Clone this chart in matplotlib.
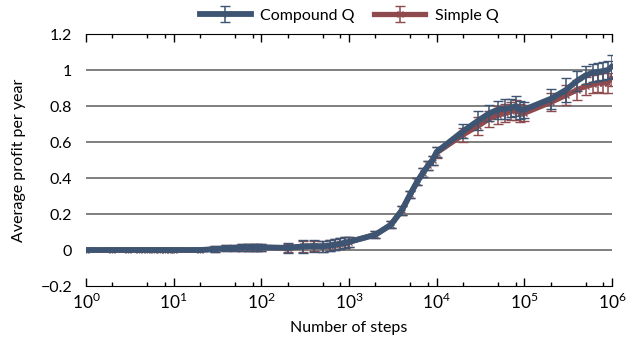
import numpy as np
import matplotlib.pyplot as plt
from matplotlib.ticker import FixedLocator, FuncFormatter, NullFormatter

plt.rcParams['font.family'] = ['Lato', 'DejaVu Sans']
plt.rcParams['mathtext.fontset'] = 'custom'
plt.rcParams['mathtext.rm'] = 'Lato'

steps = [1, 2, 3, 4, 5, 6, 7, 8, 9,
         10, 20, 30, 40, 50, 60, 70, 80, 90,
         100, 200, 300, 400, 500, 600, 700, 800, 900,
         1e3, 2e3, 3e3, 4e3, 5e3, 6e3, 7e3, 8e3, 9e3,
         1e4, 2e4, 3e4, 4e4, 5e4, 6e4, 7e4, 8e4, 9e4,
         1e5, 2e5, 3e5, 4e5, 5e5, 6e5, 7e5, 8e5, 9e5,
         1e6]

compound_q = [0, 0, 0, 0, 0, 0, 0, 0, 0,
              0, 0, 0.005, 0.01, 0.012, 0.015, 0.015, 0.015, 0.015,
              0.015, 0.012, 0.02, 0.022, 0.02, 0.025, 0.03, 0.035, 0.04,
              0.045, 0.085, 0.14, 0.22, 0.31, 0.38, 0.43, 0.47, 0.50,
              0.545, 0.66, 0.72, 0.76, 0.78, 0.785, 0.79, 0.80, 0.78,
              0.78, 0.84, 0.89, 0.94, 0.97, 0.985, 0.99, 0.995, 1.0,
              1.02]
compound_err = [0, 0, 0, 0, 0, 0, 0, 0, 0,
                0, 0, 0.015, 0.018, 0.018, 0.018, 0.018, 0.018, 0.018,
                0.018, 0.028, 0.035, 0.035, 0.03, 0.03, 0.03, 0.03, 0.03,
                0.028, 0.02, 0.02, 0.025, 0.02, 0.02, 0.025, 0.025, 0.025,
                0.03, 0.04, 0.055, 0.045, 0.05, 0.055, 0.05, 0.055, 0.05,
                0.045, 0.055, 0.065, 0.055, 0.05, 0.05, 0.05, 0.05, 0.05,
                0.065]

simple_q = [0, 0, 0, 0, 0, 0, 0, 0, 0,
            0, 0, 0.005, 0.01, 0.012, 0.015, 0.015, 0.015, 0.015,
            0.015, 0.012, 0.02, 0.022, 0.02, 0.025, 0.03, 0.035, 0.04,
            0.045, 0.085, 0.14, 0.22, 0.31, 0.38, 0.43, 0.47, 0.50,
            0.54, 0.64, 0.69, 0.73, 0.75, 0.76, 0.77, 0.78, 0.76,
            0.76, 0.82, 0.86, 0.89, 0.91, 0.92, 0.93, 0.93, 0.93,
            0.96]
simple_err = [0.006, 0.006, 0.006, 0.006, 0.006, 0.006, 0.006, 0.006, 0.006,
              0.006, 0.006, 0.015, 0.018, 0.018, 0.018, 0.018, 0.018, 0.018,
              0.018, 0.022, 0.03, 0.03, 0.03, 0.03, 0.03, 0.03, 0.03,
              0.028, 0.02, 0.02, 0.025, 0.02, 0.02, 0.025, 0.025, 0.025,
              0.03, 0.04, 0.05, 0.045, 0.05, 0.05, 0.05, 0.055, 0.05,
              0.045, 0.05, 0.055, 0.055, 0.05, 0.05, 0.05, 0.055, 0.055,
              0.05]

blue = '#3d5573'
red = '#8e4a4c'

fig = plt.figure(figsize=(6.3, 3.38), dpi=100)
ax = fig.add_axes([0.1365, 0.1538, 0.8349, 0.7456])

ax.errorbar(steps, simple_q, yerr=simple_err, color=red, lw=3.8, marker='x',
            ms=4, mew=1, elinewidth=1.1, capsize=3.5, capthick=1.1,
            label='Simple Q', zorder=3)
ax.errorbar(steps, compound_q, yerr=compound_err, color=blue, lw=4.2, marker='+',
            ms=4, mew=1, elinewidth=1.1, capsize=3.5, capthick=1.1,
            label='Compound Q', zorder=4)

ax.set_xscale('log')
ax.set_xlim(1, 1e6)
ax.set_ylim(-0.2, 1.2)

# horizontal grid only between 0 and 1
for y in [0, 0.2, 0.4, 0.6, 0.8, 1.0]:
    ax.axhline(y, color='#7f7f7f', lw=1.4, zorder=1)

ax.spines['left'].set_visible(False)
ax.spines['right'].set_visible(False)
ax.xaxis.set_ticks_position('both')
majors = [1, 10, 100, 1e3, 1e4, 1e5, 1e6]
minors = [m * d for d in majors[:-1] for m in (2, 5, 8)]
ax.xaxis.set_major_locator(FixedLocator(majors))
ax.xaxis.set_minor_locator(FixedLocator(minors))
ax.xaxis.set_major_formatter(FuncFormatter(lambda v, p: r'$10^{%d}$' % round(np.log10(v))))
ax.xaxis.set_minor_formatter(NullFormatter())
ax.tick_params(axis='x', which='major', direction='in', length=6, width=1,
               labelsize=12.5, pad=4)
ax.tick_params(axis='x', which='minor', direction='in', length=3, width=1)
ax.yaxis.set_major_locator(FixedLocator([-0.2, 0, 0.2, 0.4, 0.6, 0.8, 1.0, 1.2]))
ax.yaxis.set_major_formatter(FuncFormatter(
    lambda v, p: ('\u22120.2' if v < -0.1 else ('0' if abs(v) < 1e-9 else ('1' if abs(v - 1) < 1e-9 else f'{v:g}')))))
ax.tick_params(axis='y', length=0, labelsize=11.5, pad=10)

ax.set_xlabel('Number of steps', fontsize=11.5, labelpad=7)
ax.set_ylabel('Average profit per year', fontsize=11.5, labelpad=10)

h, l = ax.get_legend_handles_labels()
ax.legend(h[::-1], l[::-1], loc='lower center', bbox_to_anchor=(0.5, 1.0), ncol=2,
          frameon=False, fontsize=11.5, handlelength=3.2, columnspacing=1.2,
          handletextpad=0.6, borderaxespad=0.3)

fig.savefig('out.png', dpi=100)
